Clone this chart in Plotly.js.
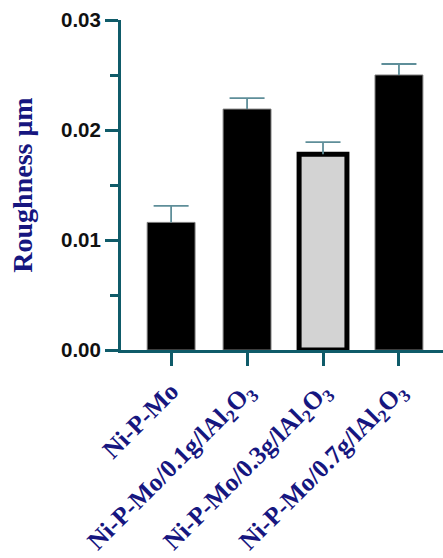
<!DOCTYPE html>
<html>
<head>
<meta charset="utf-8">
<script src="https://cdn.plot.ly/plotly-3.0.1.min.js"></script>
<style>html,body{margin:0;padding:0;background:#fff;}#chart{width:443px;height:558px;}</style>
</head>
<body>
<div id="chart"></div>
<script>
const categories = ["Ni-P-Mo", "Ni-P-Mo/0.1g/lAl<sub>2</sub>O<sub>3</sub>", "Ni-P-Mo/0.3g/lAl<sub>2</sub>O<sub>3</sub>", "Ni-P-Mo/0.7g/lAl<sub>2</sub>O<sub>3</sub>"];
const roughness = [0.0116, 0.0219, 0.0178, 0.0250];
const errorUp = [0.0015, 0.0010, 0.0011, 0.0010];
const errorDown = [0, 0, 0, 0];
const fillColors = ["#000000", "#000000", "#d3d3d3", "#000000"];
const lineColors = ["#7a7a7a", "#7a7a7a", "#000000", "#7a7a7a"];
const lineWidths = [1, 1, 5, 1];
const yTickVals = [0, 0.01, 0.02, 0.03];
const yTickText = ["0.00", "0.01", "0.02", "0.03"];
const yMinorVals = [0.005, 0.015, 0.025];

const axisColor = "#0f5b69";
const errColor = "#5e8e99";
const navy = "#16167f";

const capTops = roughness.map((v, i) => v + errorUp[i]);

const bars = {
  type: "bar",
  x: categories,
  y: roughness,
  width: 0.63,
  marker: { color: fillColors, line: { color: lineColors, width: lineWidths } },
  error_y: { type: "data", symmetric: false, array: errorUp, arrayminus: errorDown, color: errColor, thickness: 1.8, width: 0 },
  hoverinfo: "none"
};
const caps = {
  type: "scatter",
  mode: "markers",
  x: categories,
  y: capTops,
  marker: { symbol: "line-ew-open", size: 25, color: errColor, line: { color: errColor, width: 1.8 } },
  hoverinfo: "none"
};

const layout = {
  width: 443, height: 558,
  margin: { l: 121, r: 0, t: 20, b: 208 },
  paper_bgcolor: "#fff", plot_bgcolor: "#fff",
  showlegend: false,
  xaxis: {
    range: [-0.66, 3.58],
    showline: true, linecolor: axisColor, linewidth: 3,
    ticks: "outside", ticklen: 13, tickwidth: 3, tickcolor: axisColor,
    tickangle: -45,
    tickfont: { family: "Liberation Serif", size: 25.5, color: navy, weight: "bold" },
    showgrid: false, zeroline: false
  },
  yaxis: {
    range: [0, 0.03],
    tickvals: yTickVals,
    ticktext: yTickText,
    showline: true, linecolor: axisColor, linewidth: 3,
    ticks: "outside", ticklen: 13, tickwidth: 3, tickcolor: axisColor,
    minor: { tickvals: yMinorVals, ticks: "outside", ticklen: 8, tickwidth: 3, tickcolor: axisColor },
    tickfont: { family: "Liberation Sans", size: 20.5, color: "#111111", weight: "bold" },
    showgrid: false, zeroline: false,
    title: { text: "Roughness μm", font: { family: "Liberation Serif", size: 28, color: navy, weight: "bold" }, standoff: 21 }
  }
};

Plotly.newPlot("chart", [bars, caps], layout, { displayModeBar: false, staticPlot: true });
</script>
</body>
</html>
